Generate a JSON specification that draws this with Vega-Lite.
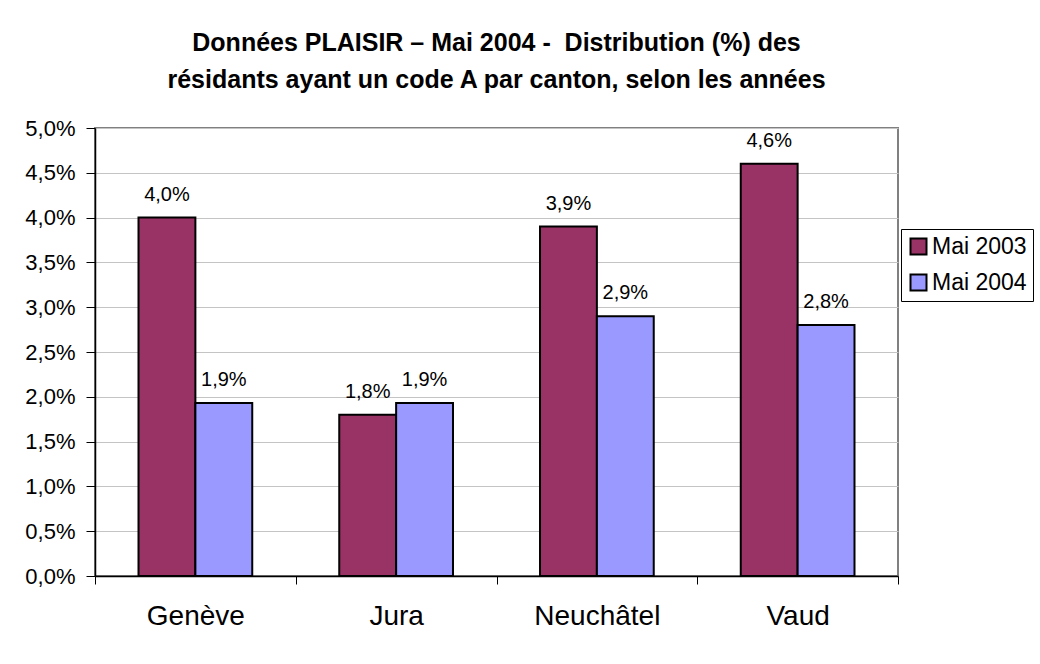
{
  "$schema": "https://vega.github.io/schema/vega-lite/v6.json",
  "width": 803,
  "height": 448,
  "autosize": {"type": "none"},
  "padding": {"left": 95, "top": 128, "right": 142, "bottom": 88},
  "background": "white",
  "title": {
    "text": ["Données PLAISIR – Mai 2004 - \u00a0Distribution (%) des", "résidants ayant un code A par canton, selon les années"],
    "font": "Liberation Sans",
    "fontSize": 25,
    "fontWeight": "bold",
    "color": "black",
    "anchor": "middle",
    "frame": "group",
    "lineHeight": 37,
    "offset": 24
  },
  "data": {
    "values": [
      {"canton": "Genève", "periode": "Mai 2003", "valeur": 0.0400},
      {"canton": "Genève", "periode": "Mai 2004", "valeur": 0.0193},
      {"canton": "Jura", "periode": "Mai 2003", "valeur": 0.0180},
      {"canton": "Jura", "periode": "Mai 2004", "valeur": 0.0193},
      {"canton": "Neuchâtel", "periode": "Mai 2003", "valeur": 0.0390},
      {"canton": "Neuchâtel", "periode": "Mai 2004", "valeur": 0.0290},
      {"canton": "Vaud", "periode": "Mai 2003", "valeur": 0.0460},
      {"canton": "Vaud", "periode": "Mai 2004", "valeur": 0.0280}
    ]
  },
  "encoding": {
    "x": {
      "field": "canton",
      "type": "nominal",
      "sort": ["Genève", "Jura", "Neuchâtel", "Vaud"],
      "scale": {"paddingInner": 0, "paddingOuter": 0},
      "axis": {
        "title": null,
        "labelAngle": 0,
        "tickBand": "extent",
        "grid": false,
        "domainColor": "black",
        "domainWidth": 1.5,
        "tickColor": "black",
        "tickSize": 8,
        "labelFontSize": 28,
        "labelColor": "black",
        "labelPadding": 18
      }
    },
    "xOffset": {
      "field": "periode",
      "type": "nominal",
      "scale": {"paddingOuter": 0.765, "paddingInner": 0}
    },
    "y": {
      "field": "valeur",
      "type": "quantitative",
      "scale": {"domain": [0, 0.05], "nice": false},
      "axis": {
        "title": null,
        "values": [0, 0.005, 0.01, 0.015, 0.02, 0.025, 0.03, 0.035, 0.04, 0.045, 0.05],
        "format": ".1%",
        "domainColor": "black",
        "domainWidth": 1.5,
        "tickColor": "black",
        "tickSize": 9,
        "gridColor": "#c4c4c4",
        "labelFontSize": 22,
        "labelColor": "black",
        "labelPadding": 11
      }
    }
  },
  "layer": [
    {
      "mark": {"type": "bar", "stroke": "black", "strokeWidth": 2},
      "encoding": {
        "color": {
          "field": "periode",
          "type": "nominal",
          "scale": {"domain": ["Mai 2003", "Mai 2004"], "range": ["#993366", "#9999FF"]},
          "legend": {
            "orient": "none",
            "legendX": 806,
            "legendY": 101,
            "title": null,
            "strokeColor": "black",
            "fillColor": "white",
            "padding": 6,
            "symbolType": "square",
            "symbolSize": 256,
            "symbolStrokeColor": "black",
            "symbolStrokeWidth": 2,
            "symbolOpacity": 1,
            "labelFontSize": 23,
            "labelColor": "black",
            "labelOffset": 2,
            "rowPadding": 11
          }
        }
      }
    },
    {
      "mark": {"type": "text", "baseline": "alphabetic", "dy": -17, "fontSize": 20, "color": "black"},
      "encoding": {
        "text": {"field": "valeur", "type": "quantitative", "format": ".1%"}
      }
    }
  ],
  "config": {
    "font": "Liberation Sans",
    "locale": {"number": {"decimal": ",", "thousands": " ", "grouping": [3], "currency": ["", " €"]}},
    "view": {"stroke": "#808080", "strokeWidth": 2}
  }
}
